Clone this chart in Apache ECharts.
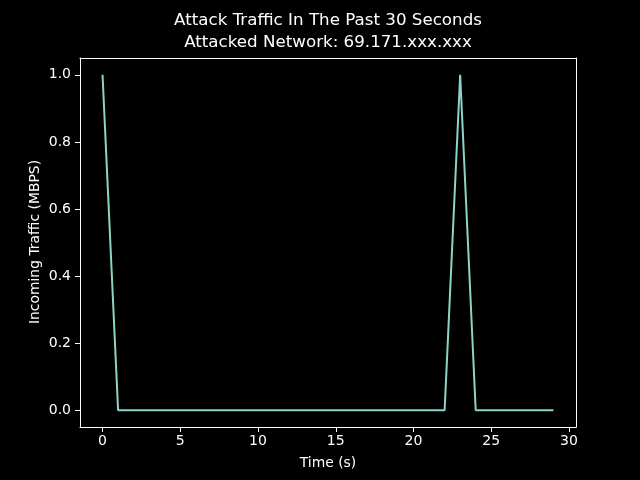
<!DOCTYPE html>
<html>
<head>
<meta charset="utf-8">
<script src="https://cdn.jsdelivr.net/npm/echarts@6/dist/echarts.min.js"></script>
<style>html,body{margin:0;padding:0;background:#000;}#c{width:640px;height:480px;}</style>
</head>
<body>
<div id="c"></div>
<script>
var timeSeconds = [0,1,2,3,4,5,6,7,8,9,10,11,12,13,14,15,16,17,18,19,20,21,22,23,24,25,26,27,28,29];
var trafficMbps = [1,0,0,0,0,0,0,0,0,0,0,0,0,0,0,0,0,0,0,0,0,0,0,1,0,0,0,0,0,0];
var xTicks = [0,5,10,15,20,25,30];
var yTicks = [0,0.2,0.4,0.6,0.8,1.0];
var titleLines = ['Attack Traffic In The Past 30 Seconds','Attacked Network: 69.171.xxx.xxx'];

var font = 'DejaVu Sans';
var chart = echarts.init(document.getElementById('c'), null, {renderer:'canvas'});
var data = timeSeconds.map(function(t,i){return [t, trafficMbps[i]];});
var spine = {show: true, onZero: false, lineStyle: {color: '#fff', width: 1}};
chart.setOption({
  animation: false,
  backgroundColor: '#000',
  grid: {left: 80, right: 64, top: 58, bottom: 53, show: false},
  xAxis: [{
    type: 'value', min: -1.45, max: 30.45, position: 'bottom',
    axisLine: spine,
    splitLine: {show: false},
    axisTick: {show: true, customValues: xTicks, length: 5, inside: false, lineStyle: {color: '#fff', width: 1}},
    axisLabel: {show: true, customValues: xTicks, color: '#fff', fontFamily: font, fontSize: 14, margin: 7,
      formatter: function(v){return String(Math.round(v));}}
  }, {
    type: 'value', min: -1.45, max: 30.45, position: 'top',
    axisLine: spine, splitLine: {show: false}, axisTick: {show: false}, axisLabel: {show: false}
  }],
  yAxis: [{
    type: 'value', min: -0.05, max: 1.05, position: 'left',
    axisLine: spine,
    splitLine: {show: false},
    axisTick: {show: true, customValues: yTicks, length: 5, inside: false, lineStyle: {color: '#fff', width: 1}},
    axisLabel: {show: true, customValues: yTicks, color: '#fff', fontFamily: font, fontSize: 14, margin: 9,
      formatter: function(v){return v.toFixed(1);}}
  }, {
    type: 'value', min: -0.05, max: 1.05, position: 'right',
    axisLine: spine, splitLine: {show: false}, axisTick: {show: false}, axisLabel: {show: false}
  }],
  series: [{
    type: 'line', data: data, showSymbol: false, symbol: 'none', xAxisIndex: 0, yAxisIndex: 0,
    lineStyle: {color: '#8dd3c7', width: 2}, itemStyle: {color: '#8dd3c7'}
  }],
  graphic: [
    {type: 'text', x: 328, y: 21, style: {text: titleLines[0], fill: '#fff', font: '16.7px "DejaVu Sans"', textAlign: 'center', textVerticalAlign: 'middle'}},
    {type: 'text', x: 328, y: 43, style: {text: titleLines[1], fill: '#fff', font: '16.7px "DejaVu Sans"', textAlign: 'center', textVerticalAlign: 'middle'}},
    {type: 'text', x: 328, y: 463, style: {text: 'Time (s)', fill: '#fff', font: '13.9px "DejaVu Sans"', textAlign: 'center', textVerticalAlign: 'middle'}},
    {type: 'text', x: 35, y: 242, rotation: Math.PI/2, style: {text: 'Incoming Traffic (MBPS)', fill: '#fff', font: '13.9px "DejaVu Sans"', textAlign: 'center', textVerticalAlign: 'middle'}}
  ]
});
</script>
</body>
</html>
